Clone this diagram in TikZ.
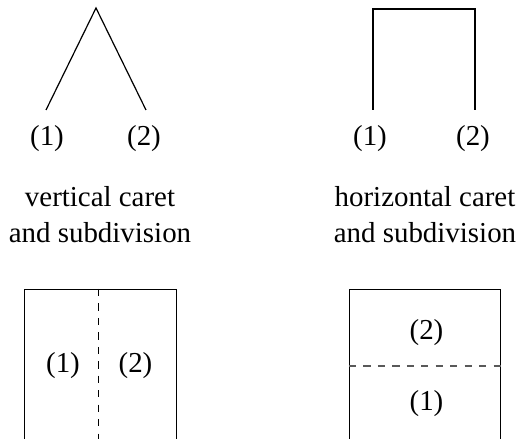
\documentclass[tikz,border=0pt]{standalone}
\usepackage{fontspec}
\setmainfont{Liberation Serif}
\usetikzlibrary{calc}
\tikzset{
  lbl/.style = {inner sep=0pt, font=\fontsize{12}{15}\selectfont},
  caption/.style = {align=center, inner sep=0pt, font=\fontsize{12}{15}\selectfont},
  edge/.style = {line width=0.5pt},
  cut/.style = {dashed, line width=0.5pt},
  box/.style = {draw, line width=0.5pt, inner sep=0pt, minimum width=62.8pt}
}
\begin{document}
\begin{tikzpicture}[x=0.415pt, y=-0.415pt]
    \useasboundingbox (0,0) rectangle (522,439);
    % vertical caret
    \coordinate (vtop) at (96,8);
    \coordinate (vleft) at (46,110);
    \coordinate (vright) at (146,110);
    \draw[edge] (vleft) -- (vtop) -- (vright);
    \node[lbl] (v1) at (47,139) {(1)};
    \node[lbl] (v2) at (144,139) {(2)};
    \node[caption] (vcap) at (100,215) {vertical caret\\and subdivision};
    % horizontal caret
    \coordinate (hleft) at (373,110);
    \coordinate (htopl) at (373,9);
    \coordinate (htopr) at (475,9);
    \coordinate (hright) at (475,110);
    \draw[edge] (hleft) -- (htopl) -- (htopr) -- (hright);
    \node[lbl] (h1) at (370,139) {(1)};
    \node[lbl] (h2) at (473,139) {(2)};
    \node[caption] (hcap) at (425,215) {horizontal caret\\and subdivision};
    % subdivisions (left one runs off the page bottom)
    \node[box, minimum height=64pt, anchor=north] (vbox) at (100.5,289) {};
    \draw[cut] ([xshift=-0.9pt]vbox.north) -- ([xshift=-0.9pt]vbox.south);
    \node[lbl] (vb1) at (63,366) {(1)};
    \node[lbl] (vb2) at (135.5,366) {(2)};
    \node[box, minimum height=62.4pt, anchor=north] (hbox) at (425.2,289) {};
    \draw[cut, black!65] ([yshift=-0.5pt]hbox.west) -- ([yshift=-0.5pt]hbox.east);
    \node[lbl] (hb2) at (426.5,332.5) {(2)};
    \node[lbl] (hb1) at (426.5,404) {(1)};
\end{tikzpicture}
\end{document}
